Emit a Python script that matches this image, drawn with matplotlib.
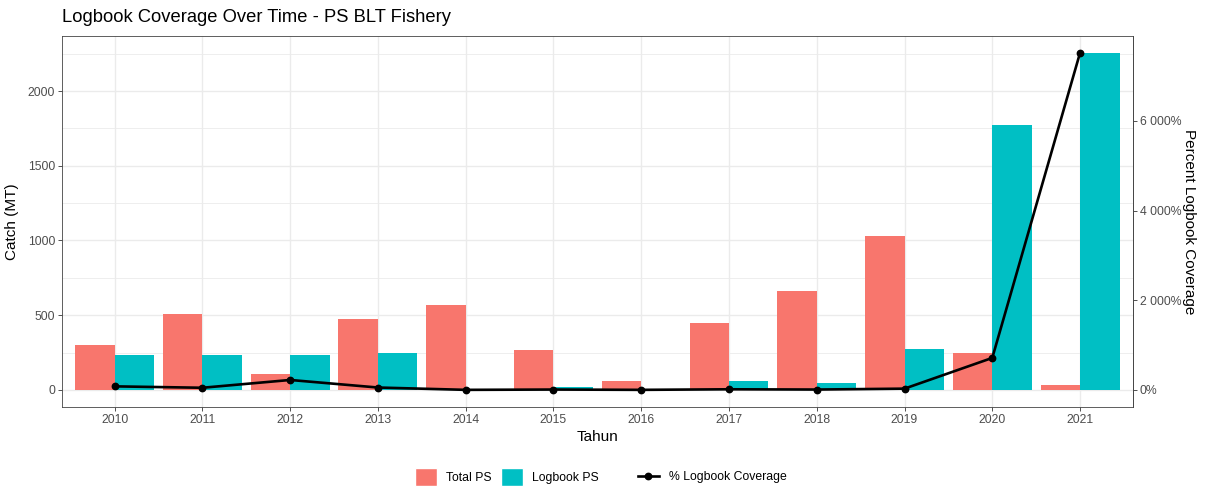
import matplotlib
matplotlib.use("Agg")
import matplotlib.pyplot as plt
from matplotlib.patches import Patch
from matplotlib.lines import Line2D
from matplotlib.ticker import MultipleLocator, FuncFormatter, FixedLocator
import numpy as np

plt.rcParams['font.family'] = ['Liberation Sans', 'DejaVu Sans']

years = ["2010", "2011", "2012", "2013", "2014", "2015",
         "2016", "2017", "2018", "2019", "2020", "2021"]
total_ps = [303, 506, 107, 474, 566, 267, 60, 446, 664, 1031, 249, 30]
logbook_ps = [236, 236, 236, 245, 0, 18, 0, 56, 45, 276, 1775, 2256]

total = np.array(total_ps, dtype=float)
logbook = np.array(logbook_ps, dtype=float)
coverage = logbook / total * 100.0          # % logbook coverage
scale = logbook.max() / coverage.max()      # % -> MT for the secondary axis

RED = "#F8766D"
TEAL = "#00BFC4"
GRID = "#EBEBEB"
TXT = "#4D4D4D"

W, H = 1206, 491
fig = plt.figure(figsize=(W / 100, H / 100), dpi=100)
ax = fig.add_axes([62 / W, 1 - 406.7 / H, (1132.7 - 62) / W, 370.7 / H])

x = np.arange(len(years))
bw = 0.45
ax.bar(x - bw / 2, total, width=bw, color=RED, linewidth=0, zorder=2)
ax.bar(x + bw / 2, logbook, width=bw, color=TEAL, linewidth=0, zorder=2)
ax.plot(x, coverage * scale, color="black", lw=1.9, marker="o", ms=4.6, zorder=3)

ax.set_xlim(-0.6, len(years) - 1 + 0.6)
ymax = logbook.max()
ax.set_ylim(-0.05 * ymax, 1.05 * ymax)

ax.set_xticks(x)
ax.set_xticklabels(years)
ax.yaxis.set_major_locator(MultipleLocator(500))
ax.yaxis.set_minor_locator(MultipleLocator(250))

ax.grid(which="major", color=GRID, lw=1.0, zorder=0)
ax.grid(which="minor", axis="y", color=GRID, lw=0.6, zorder=0)
ax.set_axisbelow(True)

for s in ax.spines.values():
    s.set_color("#444444")
    s.set_linewidth(0.6)

ax.tick_params(which="major", length=2.75, width=0.6, color="#333333",
               labelsize=8.8, labelcolor=TXT, pad=2.2)
ax.tick_params(which="minor", length=0)

sec = ax.secondary_yaxis("right", functions=(lambda v: v / scale, lambda p: p * scale))
sec.yaxis.set_major_locator(FixedLocator([0, 2000, 4000, 6000]))
sec.yaxis.set_major_formatter(FuncFormatter(lambda v, p: f"{v:,.0f}".replace(",", " ") + "%"))
sec.tick_params(length=2.75, width=0.6, color="#333333", labelsize=8.8,
                labelcolor=TXT, pad=2.2)
sec.spines["right"].set_color("#444444")
sec.spines["right"].set_linewidth(0.6)
sec.set_ylabel("Percent Logbook Coverage", fontsize=11, rotation=270, labelpad=11)

ax.set_ylabel("Catch (MT)", fontsize=11, labelpad=6)
ax.set_xlabel("Tahun", fontsize=11, labelpad=3)

fig.text(62 / W, 1 - 18 / H, "Logbook Coverage Over Time - PS BLT Fishery",
         fontsize=13.2, ha="left", va="center")

h1 = [Patch(facecolor=RED, edgecolor="white"), Patch(facecolor=TEAL, edgecolor="white")]
leg1 = fig.legend(h1, ["Total PS", "Logbook PS"], loc="center left",
                  bbox_to_anchor=(415 / W, 1 - 477 / H), ncol=2, frameon=False,
                  fontsize=8.8, handlelength=1.8, handleheight=1.8,
                  handletextpad=0.75, columnspacing=0.75, borderpad=0,
                  borderaxespad=0)
h2 = [Line2D([0], [0], color="black", lw=1.9, marker="o", ms=4.6)]
leg2 = fig.legend(h2, ["% Logbook Coverage"], loc="center left",
                  bbox_to_anchor=(638 / W, 1 - 477 / H), frameon=False,
                  fontsize=8.8, handlelength=1.7, handletextpad=0.8,
                  borderpad=0, borderaxespad=0)

fig.savefig("out.png", dpi=100)
